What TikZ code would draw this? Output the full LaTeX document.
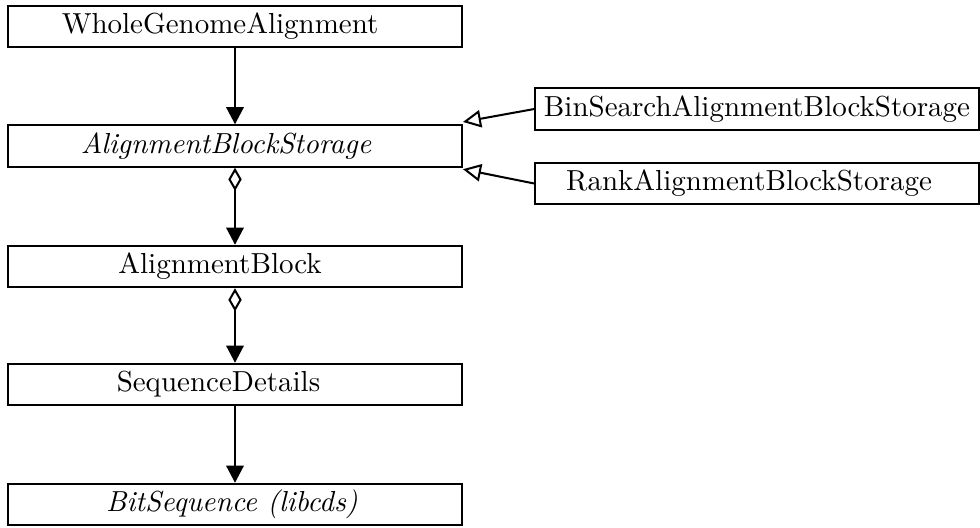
\documentclass[tikz,border=0pt]{standalone}
\usetikzlibrary{arrows.meta}
% label followed by a trailing gap, so the text sits left of the box centre
\newcommand\leftlabel[2]{#2\hspace*{#1}}
\begin{document}
\begin{tikzpicture}[x=0.345pt, y=-0.345pt,
  classbox/.style={draw, line width=0.7pt, inner sep=0pt, minimum height=14.3pt, font=\normalsize},
  leftbox/.style={classbox, minimum width=156.6pt},
  rightbox/.style={classbox, minimum width=153pt},
  assoc/.style={line width=0.7pt, -{Triangle[width=6pt,length=5.9pt]}},
  aggr/.style={line width=0.7pt, {Diamond[open,width=4.6pt,length=8pt]}-{Triangle[width=6pt,length=5.9pt]}},
  inherit/.style={line width=0.7pt, -{Triangle[open,width=6pt,length=6.2pt]}}]
  \useasboundingbox (0,0) rectangle (980,527);
  % class column
  \node[leftbox] (wga) at (235,26.5) {\leftlabel{10.3pt}{WholeGenomeAlignment}};
  \node[leftbox] (abs) at (235,146) {\leftlabel{6.2pt}{\itshape AlignmentBlockStorage}};
  \node[leftbox] (ab)  at (235,266.5) {\leftlabel{10.3pt}{AlignmentBlock}};
  \node[leftbox] (sd)  at (235,384.5) {\leftlabel{11.4pt}{SequenceDetails}};
  \node[leftbox] (bs)  at (235,504.5) {\leftlabel{2.1pt}{\itshape BitSequence (libcds)}};
  % storage implementations
  \node[rightbox] (bin)  at (757,109) {BinSearchAlignmentBlockStorage};
  \node[rightbox] (rank) at (757,183.5) {\leftlabel{5.5pt}{RankAlignmentBlockStorage}};
  % relations
  \draw[assoc] (wga.south) -- (abs.north);
  \draw[aggr] (abs.south) -- (ab.north);
  \draw[aggr] (ab.south) -- (sd.north);
  \draw[assoc] (sd.south) -- (bs.north);
  \draw[inherit] (bin.west) -- ([yshift=0.8pt]abs.north east);
  \draw[inherit] (rank.west) -- ([yshift=-0.5pt]abs.south east);
\end{tikzpicture}
\end{document}
